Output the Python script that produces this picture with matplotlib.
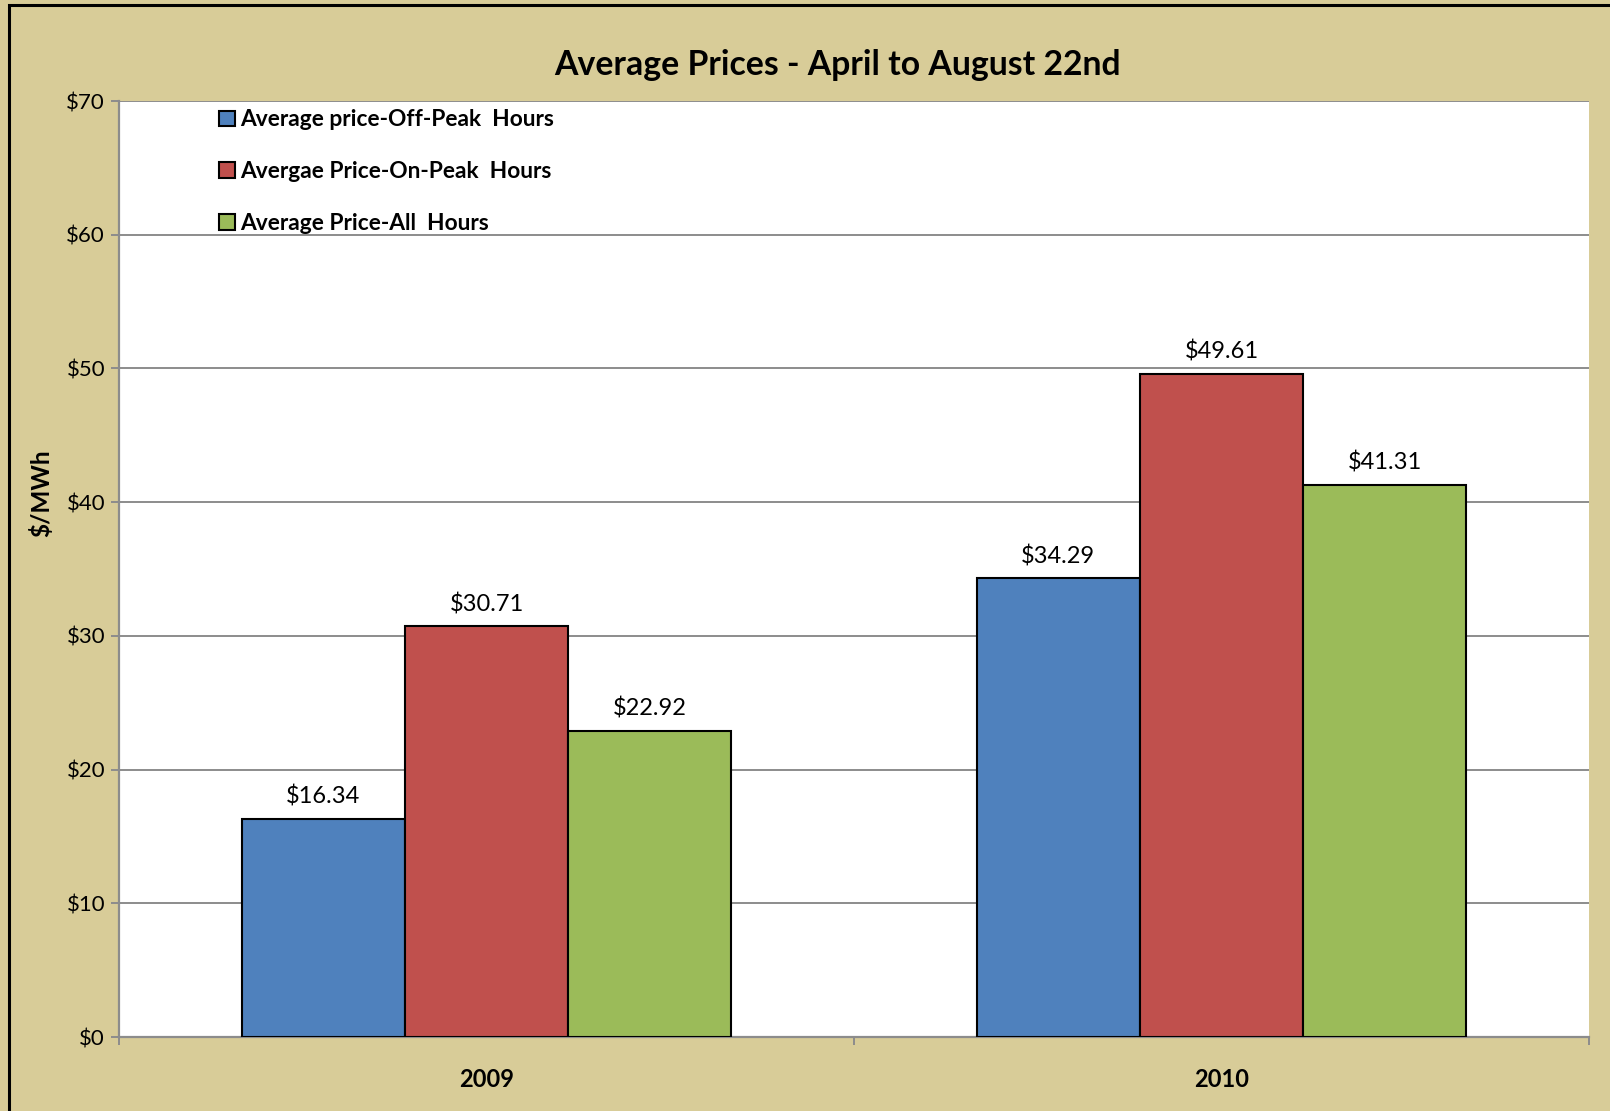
import matplotlib
matplotlib.use("Agg")
import matplotlib.pyplot as plt
import numpy as np
from matplotlib.patches import Rectangle

plt.rcParams['font.family'] = ['Lato', 'DejaVu Sans']

years = ["2009", "2010"]
series_names = ["Average price-Off-Peak  Hours",
                "Avergae Price-On-Peak  Hours",
                "Average Price-All  Hours"]
off_peak = [16.34, 34.29]
on_peak = [30.71, 49.61]
all_hours = [22.92, 41.31]
series_values = [off_peak, on_peak, all_hours]
colors = ["#4F81BD", "#C0504D", "#9BBB59"]
yticks = [0, 10, 20, 30, 40, 50, 60, 70]
ytick_labels = ["$0", "$10", "$20", "$30", "$40", "$50", "$60", "$70"]

W, H = 1610, 1111
fig = plt.figure(figsize=(W / 100, H / 100), dpi=100)
bg = "#D8CC98"
fig.patch.set_facecolor(bg)

# outer border (right/bottom cropped in reference)
fig.add_artist(Rectangle((8.5 / W, -0.1), 2, 1 - 5.5 / H + 0.1, transform=fig.transFigure,
                         fill=False, edgecolor="black", linewidth=2.2))

ax = fig.add_axes([119 / W, 1 - 1037 / H, (1589 - 119) / W, (1037 - 101) / H])
ax.set_facecolor("white")

x = np.arange(len(years))
bw = 0.222
for i, (vals, name, c) in enumerate(zip(series_values, series_names, colors)):
    pos = x + (i - 1) * bw
    ax.bar(pos, vals, width=bw, color=c, edgecolor="black", linewidth=1.5,
           label=name, zorder=3)
    for p, v in zip(pos, vals):
        ax.annotate(f"${v:.2f}", xy=(p, v), xytext=(0, 8), textcoords="offset points",
                    ha="center", va="bottom", fontsize=17, color="black", zorder=4)

ax.set_xlim(-0.5, 1.5)
ax.set_ylim(0, 70)
ax.set_yticks(yticks)
ax.set_yticklabels(ytick_labels, fontsize=16)
ax.yaxis.grid(True, color="#8C8C8C", linewidth=1.4, zorder=0)
ax.set_axisbelow(True)

ax.set_xticks([-0.5, 0.5, 1.5])
ax.set_xticklabels([])
ax.set_xticks(x, minor=True)
ax.set_xticklabels(years, minor=True, fontsize=17, fontweight="bold")
ax.tick_params(axis="x", which="minor", length=0, pad=22)
ax.tick_params(axis="x", which="major", length=6, color="#8C8C8C", width=1.4, direction="out")
ax.tick_params(axis="y", length=6, color="#8C8C8C", width=1.4, direction="out", pad=4)

for s in ["top", "right"]:
    ax.spines[s].set_visible(False)
for s in ["left", "bottom"]:
    ax.spines[s].set_color("#8C8C8C")
    ax.spines[s].set_linewidth(1.6)

ax.set_ylabel("$/MWh", fontsize=17.5, fontweight="bold")
ax.yaxis.set_label_coords((53 - 119) / 1470, (1037 - 493) / 936)

leg = ax.legend(loc="upper left", bbox_to_anchor=(0.057, 1.008), frameon=False,
                prop={"weight": "bold", "size": 16.4}, handlelength=0.7, handleheight=0.7,
                handletextpad=0.25, labelspacing=1.35, borderaxespad=0.3)

fig.text(837 / W, 1 - 65 / H, "Average Prices - April to August 22nd", ha="center", va="center",
         fontsize=24.3, fontweight="bold")

fig.savefig("out.png", dpi=100, facecolor=fig.get_facecolor())
